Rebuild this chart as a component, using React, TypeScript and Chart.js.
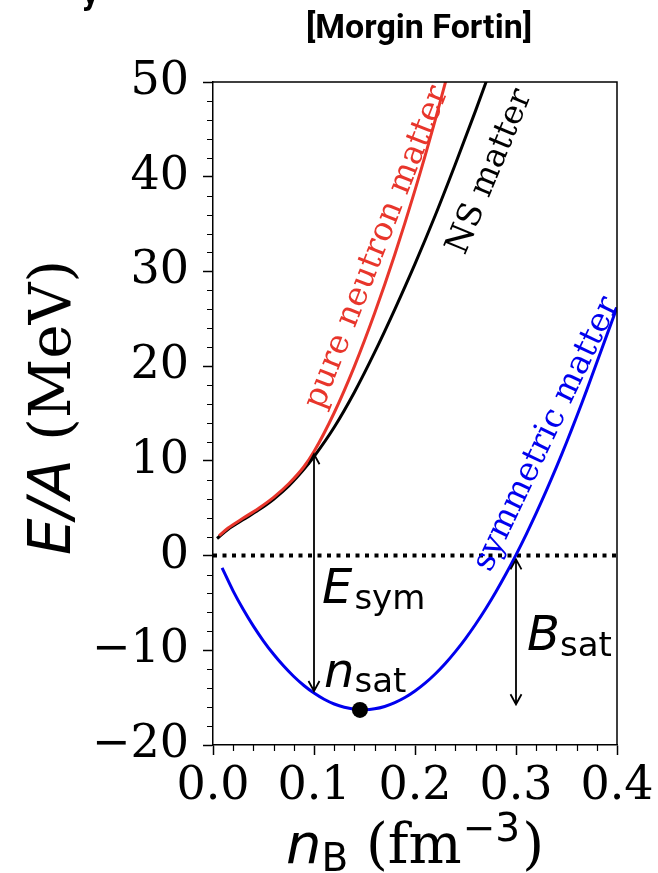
import React, { useEffect, useRef } from 'react';
import { Chart, registerables } from 'chart.js';

Chart.register(...registerables);

const W = 658;
const H = 873;

// ---- data ----
const pnmX = [0.006, 0.015, 0.03, 0.045, 0.06, 0.075, 0.09, 0.1, 0.12, 0.14, 0.16, 0.18, 0.2, 0.22, 0.24];
const pnmY = [2.1, 2.91, 3.96, 4.98, 6.15, 7.58, 9.38, 10.98, 15.08, 19.98, 25.58, 31.78, 38.58, 45.98, 53.88];

const nsX = [0.004, 0.015, 0.03, 0.045, 0.06, 0.075, 0.09, 0.1, 0.12, 0.14, 0.16, 0.18, 0.2, 0.22, 0.24, 0.26, 0.28];
const nsY = [1.8, 2.78, 3.8, 4.8, 5.95, 7.35, 9.1, 10.45, 13.55, 17.25, 21.45, 26.0, 30.8, 35.9, 41.34, 46.98, 52.82];

const snmX = [0.009, 0.02, 0.03, 0.04, 0.05, 0.06, 0.07, 0.08, 0.09, 0.1, 0.11, 0.12, 0.13, 0.14, 0.15, 0.16, 0.17, 0.18, 0.19, 0.2, 0.21, 0.22, 0.23, 0.24, 0.25, 0.26, 0.27, 0.28, 0.29, 0.3, 0.31, 0.32, 0.33, 0.34, 0.35, 0.36, 0.37, 0.38, 0.39, 0.4];
const snmY = [-1.3, -3.75, -5.7, -7.45, -9.02, -10.42, -11.67, -12.77, -13.72, -14.52, -15.17, -15.67, -16.02, -16.22, -16.28, -16.18, -15.93, -15.53, -14.99, -14.3, -13.47, -12.5, -11.39, -10.14, -8.76, -7.25, -5.61, -3.84, -1.95, 0.08, 2.22, 4.48, 6.85, 9.34, 11.94, 14.65, 17.47, 20.39, 23.3, 26.2];

const zeroX = [0, 0.4];
const zeroY = [0, 0];

const satX = [0.1455];
const satY = [-16.3];

const xTicks = [0, 0.1, 0.2, 0.3, 0.4];
const yTicks = [-20, -10, 0, 10, 20, 30, 40, 50];

// arrows: [x, yStart, yEnd]
const esymArrow = [0.1, -14.3, 10.7];
const bsatArrow = [0.3, -15.7, -0.4];

const RED = '#e8352b';
const BLUE = '#0000ee';

const SERIF = "'DejaVu Serif', serif";
const SANS = "'DejaVu Sans', sans-serif";

type Part = { t: string; font: string; dy?: number; dx?: number };

function richWidth(ctx: CanvasRenderingContext2D, parts: Part[]) {
  let w = 0;
  for (const p of parts) {
    ctx.font = p.font;
    w += ctx.measureText(p.t).width + (p.dx || 0);
  }
  return w;
}

function drawRich(ctx: CanvasRenderingContext2D, x: number, y: number, parts: Part[]) {
  let cx = x;
  for (const p of parts) {
    ctx.font = p.font;
    cx += p.dx || 0;
    ctx.fillText(p.t, cx, y + (p.dy || 0));
    cx += ctx.measureText(p.t).width;
  }
}

function vArrow(ctx: CanvasRenderingContext2D, x: number, ya: number, yb: number) {
  const hl = 10, hw = 5.5;
  ctx.beginPath();
  ctx.moveTo(x, ya);
  ctx.lineTo(x, yb);
  const dir = yb < ya ? -1 : 1;
  ctx.moveTo(x - hw, yb - dir * hl);
  ctx.lineTo(x, yb);
  ctx.lineTo(x + hw, yb - dir * hl);
  ctx.moveTo(x - hw, ya + dir * hl);
  ctx.lineTo(x, ya);
  ctx.lineTo(x + hw, ya + dir * hl);
  ctx.stroke();
}

const toPts = (xs: number[], ys: number[]) => xs.map((x, i) => ({ x, y: ys[i] }));

export default function App() {
  const ref = useRef<HTMLCanvasElement>(null);

  useEffect(() => {
    const canvas = ref.current!;

    const annot = {
      id: 'annot',
      afterDatasetsDraw(chart: any) {
        const { ctx } = chart;
        const xs = chart.scales.x;
        const ys = chart.scales.y;
        const px = (v: number) => xs.getPixelForValue(v);
        const py = (v: number) => ys.getPixelForValue(v);
        ctx.save();
        ctx.strokeStyle = '#000';
        ctx.fillStyle = '#000';
        ctx.lineWidth = 1.8;
        vArrow(ctx, px(esymArrow[0]), py(esymArrow[1]), py(esymArrow[2]));
        vArrow(ctx, px(bsatArrow[0]), py(bsatArrow[1]), py(bsatArrow[2]));

        ctx.textAlign = 'left';
        ctx.textBaseline = 'alphabetic';
        const big = `italic 48px ${SANS}`;
        const sub = `34px ${SANS}`;
        drawRich(ctx, px(0.108), py(-5.0), [
          { t: 'E', font: big },
          { t: 'sym', font: sub, dy: 6, dx: 2 },
        ]);
        drawRich(ctx, px(0.110), py(-13.84), [
          { t: 'n', font: big },
          { t: 'sat', font: sub, dy: 5, dx: 0 },
        ]);
        drawRich(ctx, px(0.311), py(-9.97), [
          { t: 'B', font: big },
          { t: 'sat', font: sub, dy: 6, dx: 0 },
        ]);

        const rot = (txt: string, color: string, cxv: number, cyv: number, deg: number) => {
          ctx.save();
          ctx.translate(px(cxv), py(cyv));
          ctx.rotate((-deg * Math.PI) / 180);
          ctx.font = `33px ${SERIF}`;
          ctx.fillStyle = color;
          ctx.textAlign = 'center';
          ctx.textBaseline = 'middle';
          ctx.fillText(txt, 0, 0);
          ctx.restore();
        };
        rot('pure neutron matter', RED, 0.1625, 32.5, 68.5);
        rot('NS matter', '#000', 0.2745, 40.5, 67.5);
        rot('symmetric matter', BLUE, 0.3305, 12.8, 64.5);
        ctx.restore();
      },
      afterDraw(chart: any) {
        const { ctx, chartArea: a } = chart;
        const xs = chart.scales.x;
        const ys = chart.scales.y;
        ctx.save();
        ctx.strokeStyle = '#000';
        ctx.lineWidth = 1.5;
        ctx.beginPath();
        ctx.moveTo(a.left, a.top);
        ctx.lineTo(a.right, a.top);
        ctx.lineTo(a.right, a.bottom);
        ctx.stroke();
        ctx.lineWidth = 1.2;
        ctx.beginPath();
        for (let k = 0; k <= 20; k++) {
          if (k % 5 === 0) continue;
          const x = Math.round(xs.getPixelForValue(k * 0.02)) + 0.5;
          ctx.moveTo(x, a.bottom);
          ctx.lineTo(x, a.bottom + 6);
        }
        for (let k = -10; k <= 25; k++) {
          if (k % 5 === 0) continue;
          const y = Math.round(ys.getPixelForValue(k * 2)) + 0.5;
          ctx.moveTo(a.left, y);
          ctx.lineTo(a.left - 6, y);
        }
        ctx.stroke();

        ctx.fillStyle = '#000';
        ctx.textBaseline = 'alphabetic';
        ctx.textAlign = 'left';
        const xParts: Part[] = [
          { t: 'n', font: `italic 56px ${SANS}` },
          { t: 'B', font: `39px ${SANS}`, dy: 8, dx: 0 },
          { t: ' (fm', font: `56px ${SERIF}` },
          { t: '\u22123', font: `39px ${SANS}`, dy: -22, dx: 1 },
          { t: ')', font: `56px ${SERIF}`, dx: 2 },
        ];
        const xw = richWidth(ctx, xParts);
        drawRich(ctx, (a.left + a.right) / 2 - xw / 2, 863, xParts);

        const yParts: Part[] = [
          { t: 'E/A', font: `italic 58px ${SANS}` },
          { t: ' (MeV)', font: `58px ${SERIF}` },
        ];
        const yw = richWidth(ctx, yParts);
        ctx.save();
        ctx.translate(70, (a.top + a.bottom) / 2 - 6);
        ctx.rotate(-Math.PI / 2);
        drawRich(ctx, -yw / 2, 0, yParts);
        ctx.restore();

        ctx.font = `bold 34px Roboto, 'Liberation Sans', sans-serif`;
        ctx.textAlign = 'center';
        ctx.fillText('[Morgin Fortin]', 419, 38);
        ctx.textAlign = 'left';
        ctx.fillText('y', 82, 4);
        ctx.restore();
      },
    };

    const chart = new Chart(canvas, {
      type: 'scatter',
      data: {
        datasets: [
          {
            label: 'n_sat',
            data: toPts(satX, satY),
            showLine: false,
            pointRadius: 8,
            pointBackgroundColor: '#000',
            pointBorderWidth: 0,
            order: 0,
          } as any,
          {
            label: 'pure neutron matter',
            data: toPts(pnmX, pnmY),
            showLine: true,
            borderColor: RED,
            borderWidth: 3,
            pointRadius: 0,
            cubicInterpolationMode: 'monotone',
            order: 1,
          },
          {
            label: 'NS matter',
            data: toPts(nsX, nsY),
            showLine: true,
            borderColor: '#000',
            borderWidth: 3,
            pointRadius: 0,
            cubicInterpolationMode: 'monotone',
            order: 2,
          },
          {
            label: 'symmetric matter',
            data: toPts(snmX, snmY),
            showLine: true,
            borderColor: BLUE,
            borderWidth: 3,
            pointRadius: 0,
            tension: 0.3,
            order: 3,
          },
          {
            label: 'zero',
            data: toPts(zeroX, zeroY),
            showLine: true,
            borderColor: '#000',
            borderWidth: 4,
            borderDash: [4, 5.5],
            borderCapStyle: 'butt',
            pointRadius: 0,
            order: 4,
          },
        ],
      },
      options: {
        responsive: false,
        animation: false,
        devicePixelRatio: 1,
        layout: { padding: { left: 0, right: 41, top: 82, bottom: 0 } },
        plugins: {
          legend: { display: false },
          tooltip: { enabled: false },
          title: { display: false },
        },
        scales: {
          x: {
            type: 'linear',
            min: 0,
            max: 0.4,
            afterBuildTicks: (s: any) => {
              s.ticks = xTicks.map((v) => ({ value: v }));
            },
            ticks: {
              autoSkip: false,
              maxRotation: 0,
              padding: 4,
              color: '#000',
              font: { family: 'DejaVu Serif', size: 46 },
              callback: (v: any) => Number(v).toFixed(1),
            },
            grid: {
              drawOnChartArea: false,
              drawTicks: true,
              tickLength: 10,
              tickWidth: 1.5,
              tickColor: '#000',
            },
            border: { display: true, color: '#000', width: 1.5 },
            afterFit: (s: any) => {
              s.height = 128;
            },
          },
          y: {
            type: 'linear',
            min: -20,
            max: 50,
            afterBuildTicks: (s: any) => {
              s.ticks = yTicks.map((v) => ({ value: v }));
            },
            ticks: {
              autoSkip: false,
              padding: 14,
              color: '#000',
              font: { family: 'DejaVu Serif', size: 46 },
              callback: (v: any) => (v < 0 ? '\u2212' + Math.abs(v) : String(v)),
            },
            grid: {
              drawOnChartArea: false,
              drawTicks: true,
              tickLength: 10,
              tickWidth: 1.5,
              tickColor: '#000',
            },
            border: { display: true, color: '#000', width: 1.5 },
            afterFit: (s: any) => {
              s.width = 213;
            },
          },
        },
      },
      plugins: [annot],
    } as any);

    return () => chart.destroy();
  }, []);

  return (
    <div style={{ position: 'absolute', left: 0, top: 0, width: W, height: H, background: '#fff' }}>
      <canvas ref={ref} width={W} height={H} style={{ width: W, height: H, display: 'block' }} />
    </div>
  );
}
